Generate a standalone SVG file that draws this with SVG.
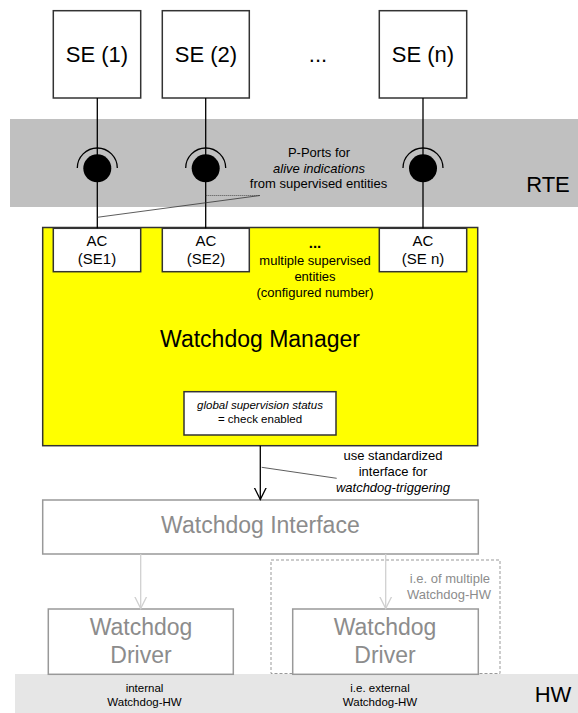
<svg xmlns="http://www.w3.org/2000/svg" width="578" height="713" viewBox="0 0 578 713">
<style>
text{font-family:"Liberation Sans",Arial,sans-serif;}
.box{fill:#fff;stroke:#333;stroke-width:1.5;}
.gbox{fill:#fff;stroke:#999;stroke-width:1.5;}
.big{font-size:22px;fill:#000;text-anchor:middle;}
.gbig{font-size:23px;fill:#8c8c8c;text-anchor:middle;}
.ac{font-size:15px;fill:#000;text-anchor:middle;}
.lbl{font-size:13px;fill:#000;text-anchor:middle;}
.sm{font-size:11.5px;fill:#000;text-anchor:middle;}
.it{font-style:italic;}
.line{stroke:#000;stroke-width:1.3;fill:none;}
.gline{stroke:#d0d0d0;stroke-width:1.3;fill:none;}
.lead{stroke:#333;stroke-width:0.8;fill:none;}
</style>
<defs>
<marker id="arr" markerWidth="14" markerHeight="14" refX="12" refY="7" orient="auto" markerUnits="userSpaceOnUse">
<path d="M0,1 L12,7 L0,13" fill="none" stroke="#000" stroke-width="1.3"/>
</marker>
<marker id="garr" markerWidth="14" markerHeight="14" refX="12" refY="7" orient="auto" markerUnits="userSpaceOnUse">
<path d="M0,1 L12,7 L0,13" fill="none" stroke="#d0d0d0" stroke-width="1.3"/>
</marker>
</defs>

<!-- layers -->
<g id="rte-band">
<rect x="10" y="119" width="568" height="88" fill="#c0c0c0"/>
<text x="548" y="192" class="big">RTE</text>
</g>
<g id="hw-band">
<rect x="15" y="674" width="563" height="39" fill="#e6e6e6"/>
<text x="553" y="701.5" class="big">HW</text>
</g>

<!-- supervised entities -->
<g id="se1">
<rect x="53.3" y="10.7" width="87.4" height="87.3" class="box"/>
<text x="97" y="61.5" class="big">SE (1)</text>
</g>
<g id="se2">
<rect x="162.3" y="10.7" width="87" height="87.3" class="box"/>
<text x="206" y="61.5" class="big">SE (2)</text>
</g>
<text x="318" y="61.5" class="big">...</text>
<g id="sen">
<rect x="379.3" y="10.7" width="87.4" height="87.3" class="box"/>
<text x="423" y="61.5" class="big">SE (n)</text>
</g>

<!-- watchdog manager -->
<g id="watchdog-manager">
<rect x="42.7" y="227.5" width="435" height="218.2" fill="#ffff00" stroke="#333" stroke-width="1.5"/>
<text x="260" y="346.5" font-size="23" text-anchor="middle" fill="#000">Watchdog Manager</text>
<text x="315" y="248" font-size="15" font-weight="bold" text-anchor="middle" fill="#000">...</text>
<text x="315" y="265" class="lbl">multiple supervised</text>
<text x="315" y="281" class="lbl">entities</text>
<text x="315" y="297.3" class="lbl">(configured number)</text>
</g>
<g id="ac1">
<rect x="53.3" y="228.3" width="87.4" height="43.4" class="box"/>
<text x="97" y="246" class="ac">AC</text>
<text x="97" y="264" class="ac">(SE1)</text>
</g>
<g id="ac2">
<rect x="162.3" y="228.3" width="87" height="43.4" class="box"/>
<text x="206" y="246" class="ac">AC</text>
<text x="206" y="264" class="ac">(SE2)</text>
</g>
<g id="acn">
<rect x="379.3" y="228.3" width="87.4" height="43.4" class="box"/>
<text x="423" y="246" class="ac">AC</text>
<text x="423" y="264" class="ac">(SE n)</text>
</g>
<g id="global-status">
<rect x="184" y="391.7" width="152" height="43.3" class="box"/>
<text x="260" y="409" font-size="11.5" class="it" text-anchor="middle" fill="#000">global supervision status</text>
<text x="260" y="423.3" font-size="11.5" text-anchor="middle" fill="#000">= check enabled</text>
</g>

<!-- lower layers -->
<g id="watchdog-interface">
<rect x="42.7" y="500" width="435.6" height="54" class="gbox"/>
<text x="260.4" y="533.3" class="gbig">Watchdog Interface</text>
</g>
<g id="multi-hw">
<rect x="271" y="560" width="229" height="113.5" fill="none" stroke="#999" stroke-width="1" stroke-dasharray="3,2"/>
<text x="490" y="582.7" font-size="13" text-anchor="end" fill="#8c8c8c">i.e. of multiple</text>
<text x="491" y="598.5" font-size="13" text-anchor="end" fill="#8c8c8c">Watchdog-HW</text>
</g>
<g id="driver-internal">
<rect x="48.3" y="609" width="185" height="65.3" class="gbox"/>
<text x="141" y="635" class="gbig">Watchdog</text>
<text x="141" y="662.7" class="gbig">Driver</text>
<text x="144.5" y="691.7" class="sm">internal</text>
<text x="144.5" y="705.7" class="sm">Watchdog-HW</text>
</g>
<g id="driver-external">
<rect x="292.7" y="609" width="185.6" height="65.3" class="gbox"/>
<text x="385" y="635" class="gbig">Watchdog</text>
<text x="385" y="662.7" class="gbig">Driver</text>
<text x="380" y="691.7" class="sm">i.e. external</text>
<text x="380" y="705.7" class="sm">Watchdog-HW</text>
</g>

<!-- connectors -->
<g id="connectors">
<line x1="97.3" y1="98" x2="97.3" y2="228.3" class="line"/>
<line x1="205.7" y1="98" x2="205.7" y2="228.3" class="line"/>
<line x1="423" y1="98" x2="423" y2="228.3" class="line"/>
<g id="port1">
<path d="M77.3,168 A20,20 0 0 1 117.3,168" class="line"/>
<circle cx="97.3" cy="168.3" r="14" fill="#000"/>
</g>
<g id="port2">
<path d="M185.7,168 A20,20 0 0 1 225.7,168" class="line"/>
<circle cx="205.7" cy="168.3" r="14" fill="#000"/>
</g>
<g id="portn">
<path d="M403,168 A20,20 0 0 1 443,168" class="line"/>
<circle cx="423" cy="168.3" r="14" fill="#000"/>
</g>
<line x1="97.3" y1="217.3" x2="260" y2="195.5" class="lead"/>
<line x1="205.7" y1="195.5" x2="260" y2="195.5" class="lead" stroke-dasharray="1,1"/>
<line x1="260.3" y1="445.7" x2="260.3" y2="499.5" class="line" marker-end="url(#arr)"/>
<line x1="261.7" y1="467.3" x2="336.7" y2="478.3" class="lead"/>
<line x1="140.7" y1="554" x2="140.7" y2="608.5" class="gline" marker-end="url(#garr)"/>
<line x1="385.7" y1="554" x2="385.7" y2="608.5" class="gline" marker-end="url(#garr)"/>
</g>

<!-- labels -->
<g id="labels">
<text x="319" y="156.5" class="lbl">P-Ports for</text>
<text x="319" y="172.5" class="lbl it">alive indications</text>
<text x="318.5" y="188.3" class="lbl">from supervised entities</text>
<text x="393" y="460" class="lbl">use standardized</text>
<text x="393" y="476" class="lbl">interface for</text>
<text x="393" y="491.7" class="lbl it">watchdog-triggering</text>
</g>
</svg>
